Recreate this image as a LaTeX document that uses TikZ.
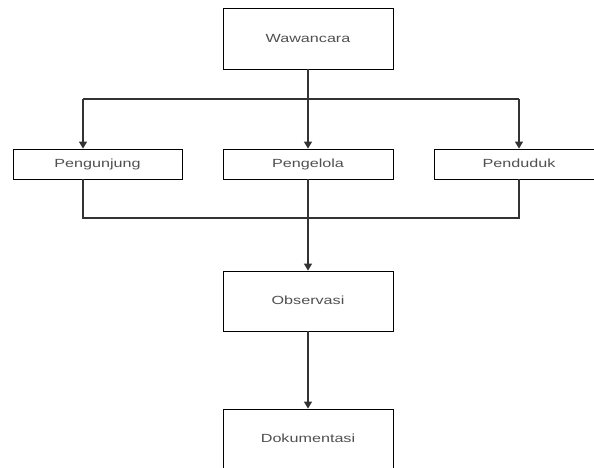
\documentclass[tikz,border=0pt]{standalone}
\usepackage{fontspec}
\setmainfont{Liberation Sans}
\usepackage{xcolor}
\usetikzlibrary{arrows.meta,positioning}
\definecolor{linegray}{HTML}{333333}
\definecolor{textgray}{HTML}{505050}
\newcommand{\widetxt}[1]{\scalebox{1.37}[1]{#1}}
\tikzset{
  box/.style={draw=black, line width=0.8pt, fill=white, minimum width=170pt, inner sep=0pt, text height=8.5pt, text depth=1pt, text=textgray, font=\fontsize{11.8}{14}\selectfont},
  tallbox/.style={box, minimum height=61pt},
  flatbox/.style={box, minimum height=30pt},
  link/.style={draw=linegray, line width=1.1pt},
  >={Triangle[width=8pt,length=7pt]}
}
\begin{document}
\begin{tikzpicture}[x=1pt,y=-1pt]
                \fill[white] (0,0) rectangle (594,468);
                \useasboundingbox (0,0) rectangle (594,468);

                % Stages
                \node[tallbox] (wawancara) at (308,38.5) {\widetxt{Wawancara}};
                \node[flatbox,minimum width=169pt] (pengunjung) at (97.5,164) {\widetxt{Pengunjung}};
                \node[flatbox] (pengelola) at (308,164) {\widetxt{Pengelola}};
                \node[flatbox] (penduduk) at (519,164) {\widetxt{Penduduk}};
                \node[tallbox,minimum height=60pt] (observasi) at (308,301) {\widetxt{Observasi}};
                \node[tallbox,minimum height=60pt] (dokumentasi) at (308,439) {\widetxt{Dokumentasi}};

                % Split to the three sources
                \coordinate (lsplit) at (83,99);
                \coordinate (rsplit) at (519,99);
                \draw[link,->] (wawancara) -- (pengelola);
                \draw[link] (lsplit) -- (rsplit);
                \draw[link,->] (lsplit) -- (lsplit |- pengunjung.north);
                \draw[link,->] (rsplit) -- (penduduk.north);

                % Join back
                \coordinate (ljoin) at (83,218);
                \coordinate (rjoin) at (519,218);
                \draw[link] (lsplit |- pengunjung.south) -- (ljoin) -- (rjoin) -- (penduduk.south);
                \draw[link,->] (pengelola) -- (observasi);
                \draw[link,->] (observasi) -- (dokumentasi);
            \end{tikzpicture}
\end{document}
